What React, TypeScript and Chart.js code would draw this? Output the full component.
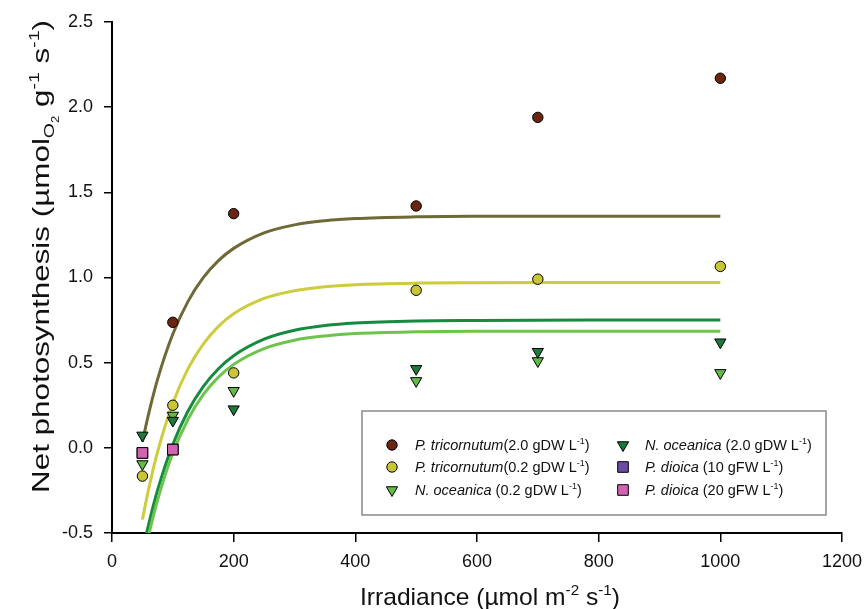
import React, { useEffect, useRef } from 'react';
import { Chart, registerables } from 'chart.js';

Chart.register(...registerables);

// ---- data ----
const curveX = [50, 60, 75, 100, 125, 150, 175, 200, 250, 300, 350, 400, 500, 600, 800, 1000];
const fitPt20 = [0.035, 0.196, 0.403, 0.668, 0.86, 0.999, 1.099, 1.171, 1.262, 1.309, 1.333, 1.346, 1.356, 1.359, 1.36, 1.36];
const fitPt02 = [-0.421, -0.245, -0.022, 0.262, 0.465, 0.609, 0.713, 0.787, 0.877, 0.922, 0.946, 0.958, 0.967, 0.969, 0.97, 0.97];
const fitNo20 = [-0.613, -0.453, -0.247, 0.02, 0.216, 0.359, 0.464, 0.541, 0.638, 0.69, 0.718, 0.733, 0.745, 0.748, 0.75, 0.75];
const fitNo02 = [-0.685, -0.518, -0.305, -0.03, 0.168, 0.312, 0.415, 0.49, 0.583, 0.632, 0.657, 0.671, 0.681, 0.684, 0.685, 0.685];

const irrPt20 = [100, 200, 500, 700, 1000];
const pt20 = [0.737, 1.375, 1.42, 1.94, 2.17];
const irradiance = [50, 100, 200, 500, 700, 1000];
const pt02 = [-0.166, 0.25, 0.44, 0.925, 0.99, 1.065];
const no20 = [0.073, 0.16, 0.227, 0.464, 0.564, 0.62];
const no02 = [-0.095, 0.19, 0.335, 0.393, 0.51, 0.44];
const irrPd = [50, 100];
const pd10 = [-0.03, -0.01];
const pd20 = [-0.03, -0.01];

const xTicks = [0, 200, 400, 600, 800, 1000, 1200];
const yTicks = [-0.5, 0, 0.5, 1.0, 1.5, 2.0, 2.5];

const FONT = '"Liberation Sans", Arial, sans-serif';

const C = {
  pt20Pt: '#6b2410',
  pt02Pt: '#c9c534',
  no20Pt: '#1b7a3a',
  no02Pt: '#62bb45',
  pd10Pt: '#6a4ca3',
  pd20Pt: '#d063b2',
  pt20Ln: '#6e6a38',
  pt02Ln: '#cccc3c',
  no20Ln: '#168a3e',
  no02Ln: '#6cc44c',
};

type Seg = { t: string; it?: boolean; k?: 'sup' | 'sub' | 'sub2' };

function drawRich(ctx: CanvasRenderingContext2D, segs: Seg[], x: number, y: number, size: number, draw = true) {
  let cx = x;
  for (const s of segs) {
    let fs = size;
    let dy = 0;
    if (s.k === 'sup') { fs = size * 0.62; dy = -size * 0.42; }
    else if (s.k === 'sub') { fs = size * 0.62; dy = size * 0.2; }
    else if (s.k === 'sub2') { fs = size * 0.42; dy = size * 0.4; }
    ctx.font = `${s.it ? 'italic ' : ''}${fs}px ${FONT}`;
    if (draw) ctx.fillText(s.t, cx, y + dy);
    cx += ctx.measureText(s.t).width;
  }
  return cx - x;
}

function marker(ctx: CanvasRenderingContext2D, style: string, x: number, y: number, fill: string) {
  ctx.save();
  ctx.fillStyle = fill;
  ctx.strokeStyle = '#000';
  ctx.lineWidth = 1;
  ctx.beginPath();
  if (style === 'circle') {
    ctx.arc(x, y, 5.2, 0, Math.PI * 2);
  } else if (style === 'tri') {
    const r = 6.5;
    ctx.moveTo(x - r * 0.866, y - r * 0.5);
    ctx.lineTo(x + r * 0.866, y - r * 0.5);
    ctx.lineTo(x, y + r);
    ctx.closePath();
  } else {
    ctx.rect(x - 5.3, y - 5.3, 10.6, 10.6);
  }
  ctx.fill();
  ctx.stroke();
  ctx.restore();
}

const legendEntries: { style: string; color: string; segs: Seg[] }[] = [
  { style: 'circle', color: C.pt20Pt, segs: [{ t: 'P. tricornutum', it: true }, { t: '(2.0 gDW L' }, { t: '-1', k: 'sup' }, { t: ')' }] },
  { style: 'circle', color: C.pt02Pt, segs: [{ t: 'P. tricornutum', it: true }, { t: '(0.2 gDW L' }, { t: '-1', k: 'sup' }, { t: ')' }] },
  { style: 'tri', color: C.no02Pt, segs: [{ t: 'N. oceanica', it: true }, { t: ' (0.2 gDW L' }, { t: '-1', k: 'sup' }, { t: ')' }] },
  { style: 'tri', color: C.no20Pt, segs: [{ t: 'N. oceanica', it: true }, { t: ' (2.0 gDW L' }, { t: '-1', k: 'sup' }, { t: ')' }] },
  { style: 'rect', color: C.pd10Pt, segs: [{ t: 'P. dioica', it: true }, { t: ' (10 gFW L' }, { t: '-1', k: 'sup' }, { t: ')' }] },
  { style: 'rect', color: C.pd20Pt, segs: [{ t: 'P. dioica', it: true }, { t: ' (20 gFW L' }, { t: '-1', k: 'sup' }, { t: ')' }] },
];

const yTitle: Seg[] = [
  { t: 'Net photosynthesis (\u00B5mol' }, { t: 'O', k: 'sub' }, { t: '2', k: 'sub2' },
  { t: ' g' }, { t: '-1', k: 'sup' }, { t: ' s' }, { t: '-1', k: 'sup' }, { t: ')' },
];
const xTitle: Seg[] = [
  { t: 'Irradiance (\u00B5mol m' }, { t: '-2', k: 'sup' }, { t: ' s' }, { t: '-1', k: 'sup' }, { t: ')' },
];

const decorPlugin = {
  id: 'decor',
  afterDraw(chart: any) {
    const ctx: CanvasRenderingContext2D = chart.ctx;
    ctx.save();
    ctx.fillStyle = '#111';
    ctx.textBaseline = 'alphabetic';
    ctx.textAlign = 'left';
    // y title
    ctx.save();
    const wy = drawRich(ctx, yTitle, 0, 0, 24, false);
    ctx.translate(49, 493);
    ctx.rotate(-Math.PI / 2);
    ctx.scale(473 / wy, 1);
    drawRich(ctx, yTitle, 0, 0, 24);
    ctx.restore();
    // x title
    ctx.save();
    const wx = drawRich(ctx, xTitle, 0, 0, 24, false);
    ctx.translate(360, 605);
    ctx.scale(260 / wx, 1);
    drawRich(ctx, xTitle, 0, 0, 24);
    ctx.restore();
    // legend box
    ctx.fillStyle = '#fff';
    ctx.fillRect(362, 411, 464, 104);
    ctx.strokeStyle = '#8a8a8a';
    ctx.lineWidth = 1.5;
    ctx.strokeRect(362, 411, 464, 104);
    const rows = [445, 467, 490];
    legendEntries.forEach((e, i) => {
      const col = i < 3 ? 0 : 1;
      const row = i % 3;
      const mx = col === 0 ? 392 : 623;
      const tx = col === 0 ? 415 : 645;
      const y = rows[row];
      marker(ctx, e.style, mx, y, e.color);
      ctx.fillStyle = '#111';
      drawRich(ctx, e.segs, tx, y + 5, 14.5);
    });
    ctx.restore();
  },
};

export default function App() {
  const ref = useRef<HTMLCanvasElement>(null);
  useEffect(() => {
    const toPts = (xs: number[], ys: number[]) => xs.map((x, i) => ({ x, y: ys[i] }));
    const lineDs = (ys: number[], color: string, order: number) => ({
      type: 'line' as const,
      data: toPts(curveX, ys),
      borderColor: color,
      borderWidth: 3,
      pointRadius: 0,
      showLine: true,
      fill: false,
      cubicInterpolationMode: 'monotone' as const,
      clip: 0,
      order,
    });
    const ptDs = (xs: number[], ys: number[], color: string, style: string, radius: number, order: number, rotation = 0) => ({
      type: 'scatter' as const,
      data: toPts(xs, ys),
      backgroundColor: color,
      borderColor: '#000',
      borderWidth: 1,
      pointStyle: style,
      pointRadius: radius,
      pointRotation: rotation,
      showLine: false,
      order,
    });
    const chart = new Chart(ref.current as HTMLCanvasElement, {
      type: 'scatter',
      data: {
        datasets: [
          ptDs(irrPd, pd20, C.pd20Pt, 'rect', 7.5, 0),
          ptDs(irrPd, pd10, C.pd10Pt, 'rect', 7.5, 1),
          ptDs(irradiance, no20, C.no20Pt, 'triangle', 6.5, 2, 180),
          ptDs(irradiance, no02, C.no02Pt, 'triangle', 6.5, 3, 180),
          ptDs(irradiance, pt02, C.pt02Pt, 'circle', 5.2, 4),
          ptDs(irrPt20, pt20, C.pt20Pt, 'circle', 5.2, 5),
          lineDs(fitNo02, C.no02Ln, 10),
          lineDs(fitNo20, C.no20Ln, 11),
          lineDs(fitPt02, C.pt02Ln, 12),
          lineDs(fitPt20, C.pt20Ln, 13),
        ] as any,
      },
      options: {
        animation: false,
        responsive: false,
        layout: { padding: { top: 22, right: 23, left: 0, bottom: 0 } },
        plugins: { legend: { display: false }, tooltip: { enabled: false } },
        scales: {
          x: {
            type: 'linear',
            min: 0,
            max: 1200,
            afterBuildTicks: (s: any) => { s.ticks = xTicks.map((v) => ({ value: v })); },
            afterFit: (s: any) => { s.height = 76; s.paddingLeft = 0; s.paddingRight = 0; },
            ticks: { color: '#111', font: { family: FONT, size: 18 }, padding: 9, callback: (v: any) => String(v) },
            grid: { display: true, drawOnChartArea: false, drawTicks: true, tickLength: 9, color: '#000', lineWidth: 1.5 },
            border: { display: true, color: '#000', width: 2 },
            title: { display: false },
          },
          y: {
            type: 'linear',
            min: -0.5,
            max: 2.5,
            afterBuildTicks: (s: any) => { s.ticks = yTicks.map((v) => ({ value: v })); },
            afterFit: (s: any) => { s.width = 112; s.paddingTop = 0; s.paddingBottom = 0; },
            ticks: { color: '#111', font: { family: FONT, size: 18 }, padding: 11, callback: (v: any) => Number(v).toFixed(1) },
            grid: { display: true, drawOnChartArea: false, drawTicks: true, tickLength: 8, color: '#000', lineWidth: 1.5 },
            border: { display: true, color: '#000', width: 2 },
            title: { display: false },
          },
        },
      } as any,
      plugins: [decorPlugin],
    });
    return () => chart.destroy();
  }, []);
  return (
    <div style={{ position: 'fixed', left: 0, top: 0, width: 865, height: 609, background: '#fff' }}>
      <canvas ref={ref} width={865} height={609} style={{ width: 865, height: 609, display: 'block' }} />
    </div>
  );
}
